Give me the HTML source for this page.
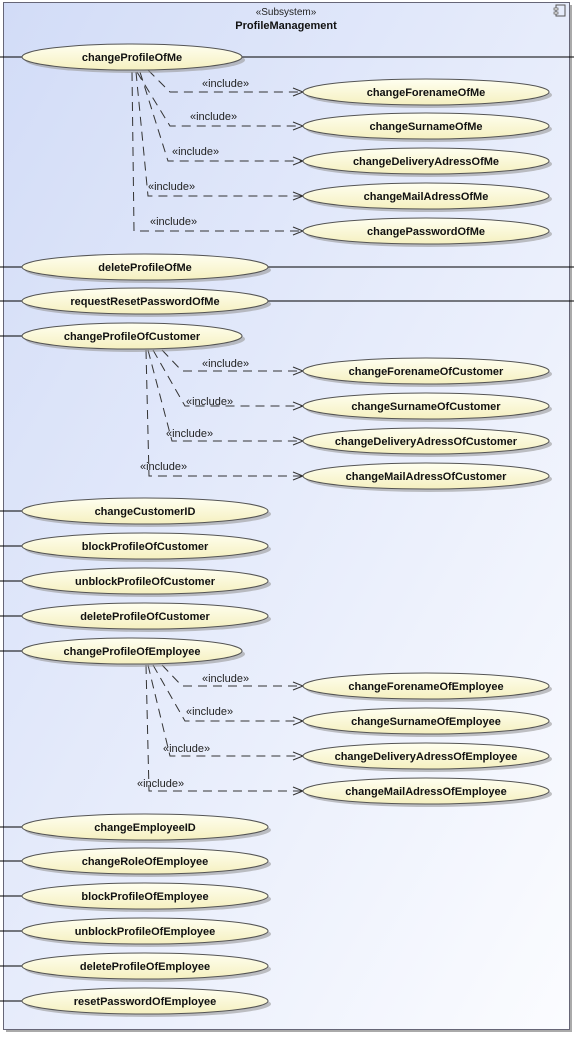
<!DOCTYPE html>
<html><head><meta charset="utf-8"><style>
html,body{margin:0;padding:0;background:#fff;}
svg{display:block;}
text{font-family:"Liberation Sans",Arial,sans-serif;}
.t{font-size:11px;font-weight:bold;fill:#111;text-anchor:middle;}
.i{font-size:11px;fill:#222;}
.d{fill:none;stroke:#333;stroke-dasharray:9,6;stroke-width:1;}
.a{fill:none;stroke:#333;stroke-width:1;}
.s{fill:#999;opacity:.6;}
.e{fill:url(#yg);stroke:#555;stroke-width:1;}
.l{stroke:#000;stroke-width:1;}
</style></head><body>
<svg width="574" height="1038" viewBox="0 0 574 1038" xmlns="http://www.w3.org/2000/svg">
<defs>
<linearGradient id="bg" x1="0" y1="0" x2="1" y2="1"><stop offset="0" stop-color="#d2dcf7"/><stop offset="1" stop-color="#fbfcff"/></linearGradient>
<linearGradient id="yg" x1="0" y1="0" x2="0" y2="1"><stop offset="0" stop-color="#fffff0"/><stop offset="1" stop-color="#f5f0c0"/></linearGradient>
</defs>
<rect x="6" y="5" width="566" height="1027" fill="#aaa"/>
<rect x="3.5" y="2.5" width="566" height="1027" fill="url(#bg)" stroke="#667" stroke-width="1"/>
<text x="286" y="15" class="i" text-anchor="middle" style="font-size:10px">«Subsystem»</text>
<text x="286" y="29" class="t">ProfileManagement</text>
<rect x="556" y="5" width="9" height="11" fill="none" stroke="#555"/><rect x="554" y="8" width="4" height="2" fill="#fff" stroke="#555" stroke-width=".7"/><rect x="554" y="12" width="4" height="2" fill="#fff" stroke="#555" stroke-width=".7"/>

<!-- actor lines -->
<g class="l">
<line x1="0" y1="57" x2="22" y2="57"/><line x1="242" y1="57" x2="574" y2="57"/>
<line x1="0" y1="267" x2="22" y2="267"/><line x1="268" y1="267" x2="574" y2="267"/>
<line x1="0" y1="301" x2="22" y2="301"/><line x1="268" y1="301" x2="574" y2="301"/>
<line x1="0" y1="336" x2="22" y2="336"/>
<line x1="0" y1="511" x2="22" y2="511"/>
<line x1="0" y1="546" x2="22" y2="546"/>
<line x1="0" y1="581" x2="22" y2="581"/>
<line x1="0" y1="616" x2="22" y2="616"/>
<line x1="0" y1="651" x2="22" y2="651"/>
<line x1="0" y1="827" x2="22" y2="827"/>
<line x1="0" y1="861" x2="22" y2="861"/>
<line x1="0" y1="896" x2="22" y2="896"/>
<line x1="0" y1="931" x2="22" y2="931"/>
<line x1="0" y1="966" x2="22" y2="966"/>
<line x1="0" y1="1001" x2="22" y2="1001"/>
</g>

<!-- include dashes -->
<path class="d" d="M148,70 L170,92 H302"/>
<path class="d" d="M137,72 L170,126 H302"/>
<path class="d" d="M140,72 L168,161 H302"/>
<path class="d" d="M136,72 L148,196 H302"/>
<path class="d" d="M132,72 L134,231 H302"/>
<path class="d" d="M162,350 L182,371 H302"/>
<path class="d" d="M153,350 L185,406 H302"/>
<path class="d" d="M148,350 L172,441 H302"/>
<path class="d" d="M146,350 L149,476 H302"/>
<path class="d" d="M162,665 L182,686 H302"/>
<path class="d" d="M153,665 L185,721 H302"/>
<path class="d" d="M148,665 L170,756 H302"/>
<path class="d" d="M146,665 L149,791 H302"/>
<g class="a">
<path d="M293,88 L303,92 L293,96"/><path d="M293,122 L303,126 L293,130"/><path d="M293,157 L303,161 L293,165"/><path d="M293,192 L303,196 L293,200"/><path d="M293,227 L303,231 L293,235"/>
<path d="M293,367 L303,371 L293,375"/><path d="M293,402 L303,406 L293,410"/><path d="M293,437 L303,441 L293,445"/><path d="M293,472 L303,476 L293,480"/>
<path d="M293,682 L303,686 L293,690"/><path d="M293,717 L303,721 L293,725"/><path d="M293,752 L303,756 L293,760"/><path d="M293,787 L303,791 L293,795"/>
</g>
<g class="i">
<text x="202" y="87">«include»</text><text x="190" y="120">«include»</text><text x="172" y="155">«include»</text><text x="148" y="190">«include»</text><text x="150" y="225">«include»</text>
<text x="202" y="367">«include»</text><text x="186" y="405">«include»</text><text x="166" y="437">«include»</text><text x="140" y="470">«include»</text>
<text x="202" y="682">«include»</text><text x="186" y="715">«include»</text><text x="163" y="752">«include»</text><text x="137" y="787">«include»</text>
</g>

<!-- ellipses -->
<g>
<ellipse class="s" cx="135" cy="60" rx="110" ry="13"/><ellipse class="e" cx="132" cy="57" rx="110" ry="13"/><text class="t" x="132" y="61">changeProfileOfMe</text>
<ellipse class="s" cx="429" cy="95" rx="123" ry="13"/><ellipse class="e" cx="426" cy="92" rx="123" ry="13"/><text class="t" x="426" y="96">changeForenameOfMe</text>
<ellipse class="s" cx="429" cy="129" rx="123" ry="13"/><ellipse class="e" cx="426" cy="126" rx="123" ry="13"/><text class="t" x="426" y="130">changeSurnameOfMe</text>
<ellipse class="s" cx="429" cy="164" rx="123" ry="13"/><ellipse class="e" cx="426" cy="161" rx="123" ry="13"/><text class="t" x="426" y="165">changeDeliveryAdressOfMe</text>
<ellipse class="s" cx="429" cy="199" rx="123" ry="13"/><ellipse class="e" cx="426" cy="196" rx="123" ry="13"/><text class="t" x="426" y="200">changeMailAdressOfMe</text>
<ellipse class="s" cx="429" cy="234" rx="123" ry="13"/><ellipse class="e" cx="426" cy="231" rx="123" ry="13"/><text class="t" x="426" y="235">changePasswordOfMe</text>
<ellipse class="s" cx="148" cy="270" rx="123" ry="13"/><ellipse class="e" cx="145" cy="267" rx="123" ry="13"/><text class="t" x="145" y="271">deleteProfileOfMe</text>
<ellipse class="s" cx="148" cy="304" rx="123" ry="13"/><ellipse class="e" cx="145" cy="301" rx="123" ry="13"/><text class="t" x="145" y="305">requestResetPasswordOfMe</text>
<ellipse class="s" cx="135" cy="339" rx="110" ry="13"/><ellipse class="e" cx="132" cy="336" rx="110" ry="13"/><text class="t" x="132" y="340">changeProfileOfCustomer</text>
<ellipse class="s" cx="429" cy="374" rx="123" ry="13"/><ellipse class="e" cx="426" cy="371" rx="123" ry="13"/><text class="t" x="426" y="375">changeForenameOfCustomer</text>
<ellipse class="s" cx="429" cy="409" rx="123" ry="13"/><ellipse class="e" cx="426" cy="406" rx="123" ry="13"/><text class="t" x="426" y="410">changeSurnameOfCustomer</text>
<ellipse class="s" cx="429" cy="444" rx="123" ry="13"/><ellipse class="e" cx="426" cy="441" rx="123" ry="13"/><text class="t" x="426" y="445">changeDeliveryAdressOfCustomer</text>
<ellipse class="s" cx="429" cy="479" rx="123" ry="13"/><ellipse class="e" cx="426" cy="476" rx="123" ry="13"/><text class="t" x="426" y="480">changeMailAdressOfCustomer</text>
<ellipse class="s" cx="148" cy="514" rx="123" ry="13"/><ellipse class="e" cx="145" cy="511" rx="123" ry="13"/><text class="t" x="145" y="515">changeCustomerID</text>
<ellipse class="s" cx="148" cy="549" rx="123" ry="13"/><ellipse class="e" cx="145" cy="546" rx="123" ry="13"/><text class="t" x="145" y="550">blockProfileOfCustomer</text>
<ellipse class="s" cx="148" cy="584" rx="123" ry="13"/><ellipse class="e" cx="145" cy="581" rx="123" ry="13"/><text class="t" x="145" y="585">unblockProfileOfCustomer</text>
<ellipse class="s" cx="148" cy="619" rx="123" ry="13"/><ellipse class="e" cx="145" cy="616" rx="123" ry="13"/><text class="t" x="145" y="620">deleteProfileOfCustomer</text>
<ellipse class="s" cx="135" cy="654" rx="110" ry="13"/><ellipse class="e" cx="132" cy="651" rx="110" ry="13"/><text class="t" x="132" y="655">changeProfileOfEmployee</text>
<ellipse class="s" cx="429" cy="689" rx="123" ry="13"/><ellipse class="e" cx="426" cy="686" rx="123" ry="13"/><text class="t" x="426" y="690">changeForenameOfEmployee</text>
<ellipse class="s" cx="429" cy="724" rx="123" ry="13"/><ellipse class="e" cx="426" cy="721" rx="123" ry="13"/><text class="t" x="426" y="725">changeSurnameOfEmployee</text>
<ellipse class="s" cx="429" cy="759" rx="123" ry="13"/><ellipse class="e" cx="426" cy="756" rx="123" ry="13"/><text class="t" x="426" y="760">changeDeliveryAdressOfEmployee</text>
<ellipse class="s" cx="429" cy="794" rx="123" ry="13"/><ellipse class="e" cx="426" cy="791" rx="123" ry="13"/><text class="t" x="426" y="795">changeMailAdressOfEmployee</text>
<ellipse class="s" cx="148" cy="830" rx="123" ry="13"/><ellipse class="e" cx="145" cy="827" rx="123" ry="13"/><text class="t" x="145" y="831">changeEmployeeID</text>
<ellipse class="s" cx="148" cy="864" rx="123" ry="13"/><ellipse class="e" cx="145" cy="861" rx="123" ry="13"/><text class="t" x="145" y="865">changeRoleOfEmployee</text>
<ellipse class="s" cx="148" cy="899" rx="123" ry="13"/><ellipse class="e" cx="145" cy="896" rx="123" ry="13"/><text class="t" x="145" y="900">blockProfileOfEmployee</text>
<ellipse class="s" cx="148" cy="934" rx="123" ry="13"/><ellipse class="e" cx="145" cy="931" rx="123" ry="13"/><text class="t" x="145" y="935">unblockProfileOfEmployee</text>
<ellipse class="s" cx="148" cy="969" rx="123" ry="13"/><ellipse class="e" cx="145" cy="966" rx="123" ry="13"/><text class="t" x="145" y="970">deleteProfileOfEmployee</text>
<ellipse class="s" cx="148" cy="1004" rx="123" ry="13"/><ellipse class="e" cx="145" cy="1001" rx="123" ry="13"/><text class="t" x="145" y="1005">resetPasswordOfEmployee</text>
</g>
</svg>
</body></html>
